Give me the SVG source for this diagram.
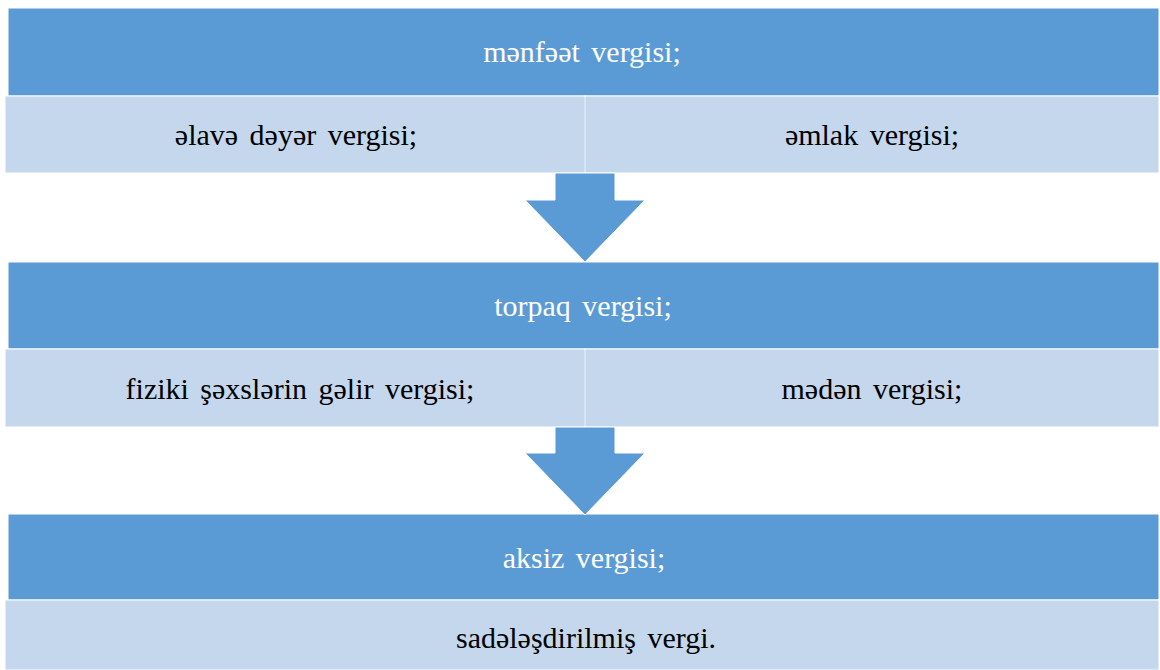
<svg xmlns="http://www.w3.org/2000/svg" width="1160" height="670" viewBox="0 0 1160 670">
<style>
.dark{fill:#5B9BD5;stroke:#FFFFFF;stroke-width:1}
.light{fill:#C5D7EC;stroke:#FFFFFF;stroke-width:1}
.div{stroke:#D8E4F2;stroke-width:2}
.arrow{fill:#5B9BD5;stroke:#FFFFFF;stroke-width:1}
text{font-family:"Liberation Serif","DejaVu Serif",serif;font-size:30px;text-anchor:middle;word-spacing:4px}
.w{fill:#FFFFFF}
.b{fill:#000000}
</style>
<rect width="1160" height="670" fill="#FFFFFF"/>
<g id="node-menfeet">
<rect class="dark" x="8" y="8" width="1151" height="88"/>
<text class="w" x="582" y="62">mənfəət vergisi;</text>
</g>
<g id="node-elave">
<rect class="light" x="5" y="96" width="580" height="77"/>
<text class="b" x="296" y="145">əlavə dəyər vergisi;</text>
</g>
<g id="node-emlak">
<rect class="light" x="585" y="96" width="574" height="77"/>
<text class="b" x="872" y="145">əmlak vergisi;</text>
</g>
<g id="node-torpaq">
<rect class="dark" x="8" y="262" width="1151" height="87"/>
<text class="w" x="583" y="316">torpaq vergisi;</text>
</g>
<g id="node-fiziki">
<rect class="light" x="5" y="349" width="580" height="78"/>
<text class="b" x="300" y="399">fiziki şəxslərin gəlir vergisi;</text>
</g>
<g id="node-meden">
<rect class="light" x="585" y="349" width="574" height="78"/>
<text class="b" x="872" y="399">mədən vergisi;</text>
</g>
<g id="node-aksiz">
<rect class="dark" x="8" y="514" width="1151" height="86"/>
<text class="w" x="584" y="568">aksiz vergisi;</text>
</g>
<g id="node-sadelesdirilmis">
<rect class="light" x="5" y="600" width="1154" height="70"/>
<text class="b" x="586" y="648">sadələşdirilmiş vergi.</text>
</g>
<g id="connectors">
<line class="div" x1="585" y1="97" x2="585" y2="172"/>
<line class="div" x1="585" y1="350" x2="585" y2="426"/>
<polygon class="arrow" points="555,173 615,173 615,200 645,200 585,262 525,200 555,200"/>
<polygon class="arrow" points="555,427 615,427 615,453 645,453 585,515 525,453 555,453"/>
</g>
</svg>
